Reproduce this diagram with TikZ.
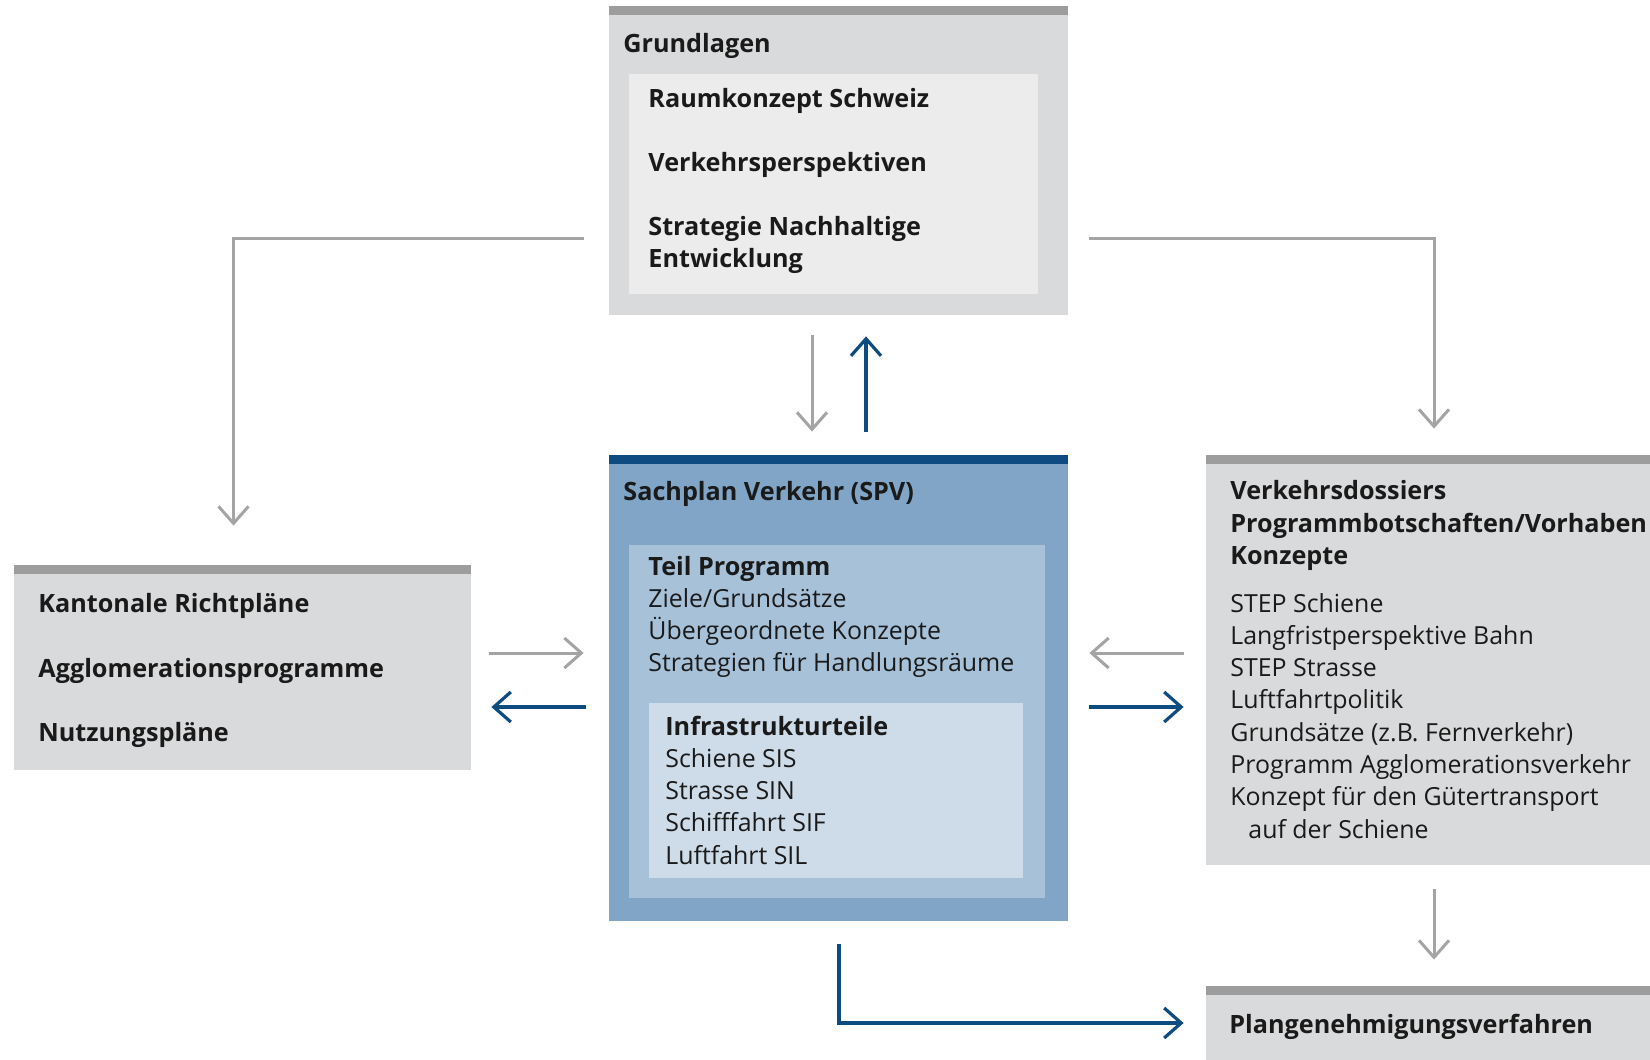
\documentclass[tikz,border=0pt]{standalone}
\usepackage{fontspec}
\setmainfont{Open Sans}
\usetikzlibrary{fit,arrows.meta}

% Farben
\definecolor{bargray}{HTML}{9D9D9D}
\definecolor{boxgray}{HTML}{D9DADB}
\definecolor{lightbox}{HTML}{ECECEC}
\definecolor{arrowgray}{HTML}{A4A4A4}
\definecolor{spvbar}{HTML}{0E4B80}
\definecolor{spvouter}{HTML}{80A5C6}
\definecolor{spvmid}{HTML}{A7C1D9}
\definecolor{spvinner}{HTML}{CEDCE9}
\definecolor{darktext}{HTML}{1A1A1A}

\tikzset{
  graybox/.style={inner sep=0pt, fill=boxgray,
    path picture={\fill[bargray] (path picture bounding box.north west)
      rectangle ([yshift=-4.5pt]path picture bounding box.north east);}},
  bluebox/.style={inner sep=0pt, fill=spvouter,
    path picture={\fill[spvbar] (path picture bounding box.north west)
      rectangle ([yshift=-4.5pt]path picture bounding box.north east);}},
  panel/.style={inner sep=0pt, fill=#1},
  txt/.style={anchor=base west, inner sep=0pt, text=darktext,
    font=\fontsize{12.45}{16}\selectfont},
  btxt/.style={txt, font=\fontsize{12.6}{16}\selectfont\bfseries},
  garrow/.style={draw=arrowgray, line width=1.5pt,
    -{Straight Barb[length=8.5pt,width=15pt,line width=1.5pt]}},
  barrow/.style={draw=spvbar, line width=1.6pt,
    -{Straight Barb[length=8.5pt,width=15pt,line width=1.6pt]}}
}

\begin{document}
\begin{tikzpicture}[x=0.5pt,y=-0.5pt]
  \useasboundingbox (0,0) rectangle (1650,1060);

  % Grundlagen
  \node[graybox, fit={(609,6) (1068,315)}] (grund) {};
  \node[panel=lightbox, fit={(629,74) (1038,294)}] (grundin) {};
  \node[btxt] (grundt) at (623,52) {Grundlagen};
  \node[btxt] (g1) at (648,107) {Raumkonzept Schweiz};
  \node[btxt] (g2) at (648,171) {Verkehrsperspektiven};
  \node[btxt] (g3) at (648,235) {Strategie Nachhaltige};
  \node[btxt] (g4) at (648,267) {Entwicklung};

  % Sachplan Verkehr
  \node[bluebox, fit={(609,455) (1068,921)}] (spv) {};
  \node[panel=spvmid, fit={(629,545) (1045,898)}] (teil) {};
  \node[panel=spvinner, fit={(649,703) (1023,878)}] (infra) {};
  \node[btxt] (spvt) at (623,500) {Sachplan Verkehr (SPV)};
  \node[btxt] (teilt) at (648,575) {Teil Programm};
  \foreach \t [count=\i] in {Ziele/Grundsätze,
      Übergeordnete Konzepte, Strategien für Handlungsräume}{
    \node[txt] (teil\i) at (648,{575+32.3*\i}) {\t};
  }
  \node[btxt] (infrat) at (665,735) {Infrastrukturteile};
  \foreach \t [count=\i] in {Schiene SIS, Strasse SIN,
      Schifffahrt SIF, Luftfahrt SIL}{
    \node[txt] (infra\i) at (665,{735+32.3*\i}) {\t};
  }

  % Kantone
  \node[graybox, fit={(14,565) (471,770)}] (kant) {};
  \node[btxt] (k1) at (38,612) {Kantonale Richtpläne};
  \node[btxt] (k2) at (38,677) {Agglomerationsprogramme};
  \node[btxt] (k3) at (38,741) {Nutzungspläne};

  % Verkehrsdossiers
  \node[graybox, fit={(1206,455) (1650,865)}] (dos) {};
  \node[btxt] (d1) at (1230,499) {Verkehrsdossiers};
  \node[btxt] (d2) at (1230,532) {Programmbotschaften/Vorhaben};
  \node[btxt] (d3) at (1230,564) {Konzepte};
  \foreach \t [count=\i from 0] in {STEP Schiene, Langfristperspektive Bahn,
      STEP Strasse, Luftfahrtpolitik, Grundsätze (z.B. Fernverkehr),
      Programm Agglomerationsverkehr, Konzept für den Gütertransport}{
    \node[txt] (dos\i) at (1230,{612+32.3*\i}) {\t};
  }
  \node[txt] (dos7) at (1248,838) {auf der Schiene};

  % Plangenehmigung
  \node[graybox, fit={(1206,986) (1650,1060)}] (plan) {};
  \node[btxt] (plant) at (1229,1033) {Plangenehmigungsverfahren};

  % Pfeile
  \draw[garrow, shorten <=12.5pt, shorten >=19.5pt]
    (grund.west |- 0,238) -| ([xshift=-4.5pt]kant.north);
  \draw[garrow, shorten <=10.5pt, shorten >=13pt]
    (grund.east |- 0,238) -| ([xshift=3pt]dos.north);
  \draw[garrow, shorten <=10pt, shorten >=11.5pt]
    (grund.south -| 812,0) -- (spv.north -| 812,0);
  \draw[barrow, shorten <=11.5pt, shorten >=10.5pt]
    (spv.north -| 866,0) -- (grund.south -| 866,0);
  \draw[garrow, shorten <=9pt, shorten >=12.5pt]
    (kant.east |- 0,653) -- (spv.west |- 0,653);
  \draw[barrow, shorten <=11.5pt, shorten >=10pt]
    (spv.west |- 0,707) -- (kant.east |- 0,707);
  \draw[garrow, shorten <=11pt, shorten >=10.5pt]
    (dos.west |- 0,653) -- (spv.east |- 0,653);
  \draw[barrow, shorten <=10.5pt, shorten >=11pt]
    (spv.east |- 0,707) -- (dos.west |- 0,707);
  \draw[garrow, shorten <=12pt, shorten >=13pt]
    (dos.south -| 1434,0) -- (plan.north -| 1434,0);
  \draw[barrow, shorten <=11.5pt, shorten >=11pt]
    (spv.south -| 839,0) |- (plan.west |- 0,1023);

\end{tikzpicture}
\end{document}
